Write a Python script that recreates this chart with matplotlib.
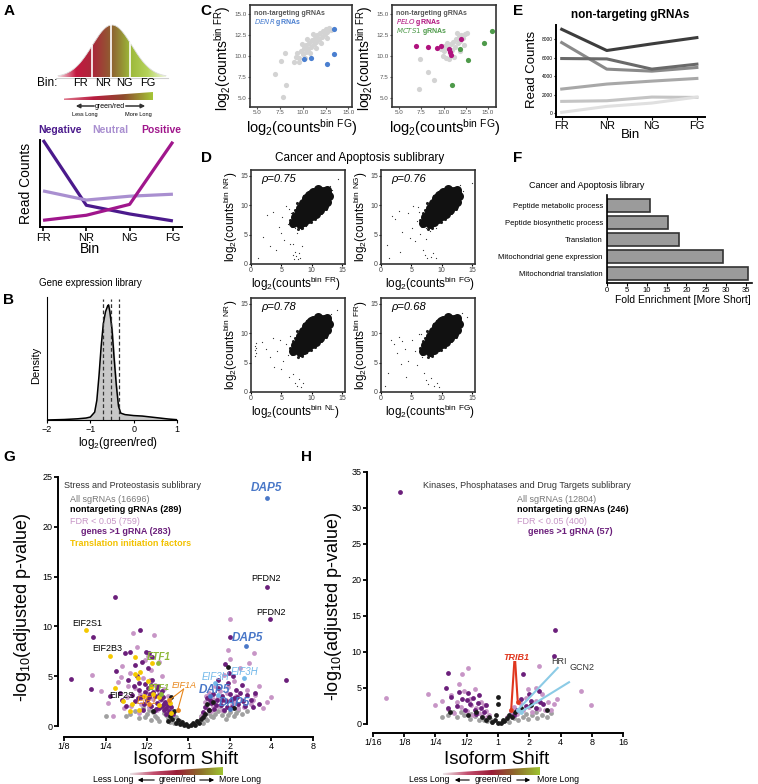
import numpy as np
import matplotlib.pyplot as plt
from matplotlib.colors import LinearSegmentedColormap
from matplotlib.patches import Polygon

plt.rcParams['font.family'] = ['Liberation Sans', 'DejaVu Sans']
plt.rcParams['mathtext.default'] = 'regular'

# ---------------- data ----------------
bins = ["FR", "NR", "NG", "FG"]
a_groups = ["Negative", "Neutral", "Positive"]
a_counts = [[1.0, 0.25, 0.15, 0.07], [0.415, 0.31, 0.354, 0.377], [0.077, 0.135, 0.26, 0.98]]
a_colors = ["#4b1a8c", "#a98fd0", "#a0168c"]

b_x = [-2.0, -1.6, -1.3, -1.1, -1.0, -0.9, -0.85, -0.8, -0.75, -0.7, -0.65, -0.6, -0.58, -0.55,
       -0.5, -0.45, -0.4, -0.35, -0.3, -0.2, -0.1, 0.0, 0.2, 0.4, 0.6, 0.8, 1.0]
b_y = [0, 0.5, 1.2, 2, 3, 8, 20, 45, 75, 98, 110, 116, 117, 110,
       92, 62, 35, 14, 7, 5.5, 5, 4.5, 4, 3, 2, 1, 0.3]
b_quart = [-0.70, -0.53, -0.34]

c1_nt = [(9.2, 9.9), (9.4, 10.4), (9.6, 9.8), (9.8, 10.6), (10.0, 10.2), (10.1, 11.0), (10.3, 10.5),
         (10.4, 11.3), (10.6, 10.8), (10.7, 11.6), (10.9, 11.1), (11.0, 11.9), (11.2, 11.4), (11.3, 12.2),
         (11.5, 11.7), (11.6, 12.5), (11.8, 12.0), (11.9, 12.8), (12.1, 12.3), (12.2, 13.0), (12.4, 12.6),
         (12.5, 13.2), (12.7, 12.9), (12.9, 13.3), (13.1, 13.1), (10.2, 9.7), (10.8, 10.3), (11.4, 10.9),
         (12.0, 11.5), (12.6, 12.1), (9.0, 9.3), (9.6, 9.3), (8.05, 10.4), (7.6, 9.4), (6.9, 7.8),
         (8.2, 6.5), (7.8, 5.1), (10.5, 12.0), (11.1, 12.6), (9.9, 11.4)]
c1_denr = [(13.4, 13.2), (13.4, 10.2), (12.6, 9.0), (10.9, 9.8), (10.1, 9.6)]
c2_nt = [(9.9, 10.0), (10.1, 10.6), (10.3, 9.8), (10.5, 10.9), (10.7, 10.3), (10.8, 11.4), (11.0, 10.7),
         (11.1, 11.7), (11.3, 11.1), (11.4, 12.0), (11.6, 11.5), (11.7, 12.3), (11.9, 11.8), (12.0, 12.5),
         (12.2, 12.1), (12.4, 12.6), (10.4, 11.6), (10.0, 11.2), (11.2, 9.9), (11.8, 10.6), (12.3, 11.3),
         (10.6, 9.6), (9.7, 10.8), (11.5, 12.7), (7.3, 9.6), (8.2, 8.1), (8.9, 7.1), (7.25, 6.0), (12.6, 12.8)]
c2_pelo = [(6.9, 11.2), (8.3, 11.1), (9.3, 11.0), (9.7, 11.2), (10.65, 10.8), (10.7, 10.5), (10.8, 10.1), (12.0, 12.0)]
c2_mcts1 = [(10.9, 6.5), (15.4, 13.0), (14.55, 11.6), (12.7, 9.5), (11.85, 10.8)]

d_core = [(7.6, 7.4), (8.0, 8.2), (8.3, 7.6), (8.5, 8.8), (8.8, 8.0), (8.9, 9.3), (9.2, 8.6), (9.3, 9.8),
          (9.6, 9.1), (9.7, 10.3), (10.0, 9.6), (10.1, 10.8), (10.4, 10.1), (10.5, 11.2), (10.8, 10.6),
          (10.9, 11.6), (11.2, 11.0), (11.3, 11.9), (11.6, 11.4), (11.7, 12.2), (12.0, 11.8), (12.2, 12.4),
          (12.4, 12.0), (8.7, 9.7), (9.2, 10.4), (9.8, 11.0), (10.3, 11.6), (9.5, 8.4), (10.2, 8.9),
          (10.8, 9.7), (11.3, 10.4), (11.8, 10.9), (12.1, 11.3), (9.0, 10.8), (7.9, 8.9), (8.4, 9.9),
          (10.9, 12.1), (11.5, 12.5), (12.5, 12.6), (9.9, 12.0), (10.5, 9.3), (8.0, 9.5), (8.5, 10.4),
          (9.0, 11.2), (9.5, 11.8), (10.2, 12.3), (11.0, 12.8), (8.7, 7.2), (9.4, 7.6), (10.0, 8.1),
          (10.7, 8.5), (11.4, 9.2), (12.0, 9.9), (12.6, 10.6), (12.8, 11.5), (7.3, 8.0), (7.0, 7.0), (8.1, 6.8)]
d_edge = [(7.0, 7.8), (7.3, 6.9), (7.5, 8.5), (8.0, 7.1), (8.2, 9.4), (8.6, 7.3), (8.0, 10.0), (9.1, 7.7),
          (8.7, 10.5), (9.6, 7.9), (9.4, 11.2), (10.2, 8.3), (10.0, 11.8), (10.8, 8.9), (10.6, 12.3),
          (11.4, 9.6), (11.2, 12.7), (11.9, 10.3), (12.0, 12.9), (12.5, 11.0), (12.8, 12.0), (12.7, 12.8),
          (6.8, 6.5), (7.2, 9.2), (9.9, 7.2), (6.5, 7.5), (7.6, 10.3), (8.4, 6.2), (9.2, 12.0), (10.5, 7.6),
          (6.9, 8.6), (7.8, 6.0), (11.6, 8.6), (12.3, 9.4), (8.8, 11.6), (13.1, 12.3)]
d_tl_sparse = [(1.2, 1.0), (2.0, 4.6), (2.6, 8.3), (3.1, 3.0), (3.6, 8.9), (4.2, 2.4), (4.6, 6.3), (5.1, 8.0),
               (5.4, 4.1), (5.8, 9.9), (6.1, 6.8), (6.4, 3.4), (6.6, 8.7), (6.9, 1.6), (7.1, 0.9), (7.3, 2.1),
               (7.5, 1.3), (7.7, 0.8), (7.9, 1.9), (8.1, 1.1), (7.2, 6.1), (7.6, 5.2), (7.9, 6.9), (8.3, 5.9),
               (8.6, 7.0), (9.0, 6.4), (9.3, 7.6), (6.8, 7.4), (7.4, 8.6), (6.2, 9.3), (8.0, 9.8), (13.0, 13.2),
               (13.4, 12.6), (12.9, 11.4), (14.3, 14.5), (9.8, 8.1), (10.4, 8.6), (7.0, 3.4), (8.4, 3.0), (5.0, 5.2)]
d_tr_sparse = [(1.0, 3.2), (1.3, 1.1), (1.8, 8.2), (2.3, 7.6), (3.0, 9.1), (3.5, 5.5), (4.4, 8.7), (5.1, 6.2),
               (5.6, 3.9), (6.0, 7.4), (6.3, 8.8), (6.5, 5.1), (6.8, 6.6), (7.0, 2.4), (7.3, 1.5), (7.6, 1.0),
               (8.2, 1.2), (8.6, 1.8), (9.0, 1.0), (7.1, 7.9), (7.5, 6.1), (7.8, 7.0), (8.1, 5.6), (8.4, 6.6),
               (8.8, 7.3), (9.1, 6.1), (6.1, 9.7), (7.2, 9.3), (5.2, 9.8), (13.1, 13.4), (13.5, 12.4),
               (12.6, 11.2), (15.0, 13.8), (9.6, 8.0), (10.2, 8.8), (7.4, 4.3), (3.2, 2.0), (4.8, 4.4)]
d_bl_sparse = [(0.6, 7.2), (0.7, 7.9), (0.8, 6.6), (0.9, 8.3), (0.7, 6.1), (0.8, 7.5), (1.8, 8.5), (2.4, 7.3),
               (3.1, 6.0), (3.6, 9.2), (4.3, 7.0), (4.8, 8.8), (5.3, 5.2), (5.7, 8.1), (6.1, 6.3), (6.4, 9.5),
               (6.7, 7.4), (7.0, 3.0), (7.3, 1.6), (7.6, 1.0), (7.9, 2.2), (8.2, 0.8), (8.5, 1.5), (7.2, 6.7),
               (7.7, 5.8), (8.1, 7.2), (8.4, 6.3), (8.9, 7.4), (9.2, 6.7), (9.6, 7.8), (6.9, 8.6), (13.2, 13.3),
               (12.8, 11.6), (14.1, 13.9), (10.1, 8.5), (5.0, 3.9), (6.2, 2.5), (3.8, 4.3)]
d_br_sparse = [(0.7, 1.0), (1.2, 3.3), (1.6, 8.9), (2.1, 8.1), (2.7, 6.6), (2.9, 9.4), (3.4, 8.6), (4.0, 7.4),
               (4.5, 5.3), (5.1, 8.9), (5.6, 6.9), (5.9, 4.6), (6.2, 9.8), (6.5, 7.6), (6.8, 5.9), (7.1, 3.3),
               (7.4, 2.0), (7.8, 1.4), (8.3, 2.4), (8.8, 1.0), (9.2, 1.6), (9.5, 0.8), (7.3, 7.0), (7.7, 8.4),
               (8.0, 6.2), (8.4, 7.6), (8.8, 6.6), (9.1, 8.0), (9.5, 7.0), (6.6, 9.9), (13.3, 13.5), (12.9, 11.3),
               (14.2, 12.8), (10.0, 8.2), (10.6, 8.7), (4.2, 2.6), (3.3, 4.7), (11.1, 9.0)]
d_rho = [0.75, 0.76, 0.78, 0.68]
d_xbin = ["FR", "FG", "NL", "FG"]
d_ybin = ["NR", "NG", "NR", "FR"]

e_counts = [[9080, 6780, 7500, 8180], [7640, 4760, 4540, 4940], [5910, 5870, 4760, 5300],
            [2600, 3140, 3460, 3750], [1260, 1330, 1730, 1690], [70, 720, 1080, 1730]]
e_colors = ["#3d3d3d", "#8a8a8a", "#6a6a6a", "#a8a8a8", "#c4c4c4", "#e0e0e0"]

f_terms = ["Peptide metabolic process", "Peptide biosynthetic process", "Translation",
           "Mitochondrial gene expression", "Mitochondrial translation"]
f_fold = [10.9, 15.4, 18.0, 29.2, 35.6]

# volcano G: (log2 isoform shift, -log10 adj p)
g_all = [(-1.5, 1.0), (-1.2, 0.8), (-1.0, 1.2), (-0.9, 0.6), (-0.8, 1.0), (-0.7, 0.5), (-0.6, 1.3),
         (-0.5, 0.8), (-0.45, 0.4), (-0.3, 0.9), (-0.2, 0.5), (0.2, 0.5), (0.3, 1.0), (0.45, 0.6),
         (0.5, 1.3), (0.6, 0.9), (0.7, 1.5), (0.8, 1.1), (0.9, 0.7), (1.0, 1.4), (1.1, 1.0), (1.2, 1.6),
         (-1.1, 1.8), (-0.65, 1.9), (0.75, 2.0), (1.3, 1.2), (-1.3, 1.5), (-2.0, 1.0), (-0.35, 0.3), (0.35, 0.3),
         (-1.4, 1.2), (-1.05, 0.9), (-0.85, 1.4), (-0.75, 0.8), (-0.55, 1.1), (-0.4, 0.6), (0.4, 0.8),
         (0.55, 1.0), (0.65, 1.2), (0.85, 1.5), (0.95, 1.1), (1.15, 1.3), (1.4, 1.5), (-0.95, 1.6)]
g_fdr = [(-2.32, 5.1), (-1.81, 1.0), (-1.48, 2.9), (-1.34, 9.3), (-0.84, 9.1), (1.01, 10.7), (1.57, 7.3),
         (-2.1, 3.5), (-1.95, 2.3), (-1.7, 4.4), (-1.6, 6.0), (-1.55, 1.8), (-1.4, 5.3), (-1.3, 3.8),
         (-1.25, 7.9), (-1.15, 2.2), (-1.1, 4.8), (-1.05, 6.6), (-1.0, 3.3), (-0.95, 1.9), (-0.9, 5.6),
         (-0.85, 2.7), (-0.8, 4.1), (-0.75, 1.6), (-0.7, 3.4), (-0.65, 5.0), (-0.6, 2.3), (-0.55, 1.4),
         (-0.5, 3.0), (-0.45, 2.0), (-0.4, 1.3), (-1.2, 1.3), (-0.98, 7.0), (-0.72, 6.4), (-1.45, 4.0),
         (0.35, 1.3), (0.4, 2.4), (0.45, 1.8), (0.5, 3.3), (0.55, 1.5), (0.6, 2.7), (0.65, 4.0), (0.7, 2.0),
         (0.75, 3.5), (0.8, 1.6), (0.85, 5.1), (0.9, 2.6), (0.95, 3.9), (1.0, 6.7), (1.05, 2.1), (1.1, 4.5),
         (1.15, 3.0), (1.2, 1.8), (1.25, 5.8), (1.3, 2.6), (1.4, 3.6), (1.5, 2.2), (1.6, 3.1), (1.7, 4.0),
         (1.8, 1.8), (0.95, 7.6), (1.45, 6.3), (2.0, 2.9), (0.3, 0.9), (1.9, 2.4),
         (-1.62, 4.9), (-1.38, 2.0), (-1.18, 3.2), (-0.92, 4.6), (-0.68, 2.6), (-0.58, 3.7), (-0.52, 1.8),
         (0.42, 3.0), (0.58, 2.0), (0.72, 2.9), (0.92, 3.3), (1.12, 2.4), (1.35, 1.9), (1.55, 2.6)]
g_genes = [(-2.83, 4.7), (-2.35, 3.7), (-2.31, 8.9), (-1.78, 13.0), (-1.16, 9.6), (-1.52, 7.3), (-1.02, 7.4),
           (-0.95, 7.3), (-1.3, 6.1), (1.97, 10.7), (1.9, 14.0), (1.01, 8.9), (2.35, 4.6),
           (-1.9, 3.0), (-1.75, 5.5), (-1.65, 3.3), (-1.5, 2.0), (-1.45, 4.6), (-1.35, 3.1), (-1.3, 2.5),
           (-1.25, 5.0), (-1.2, 3.6), (-1.15, 2.9), (-1.1, 1.6), (-1.05, 4.2), (-1.0, 2.6), (-0.97, 5.8),
           (-0.93, 3.2), (-0.9, 2.0), (-0.87, 4.6), (-0.83, 1.5), (-0.8, 3.0), (-0.77, 2.3), (-0.73, 4.0),
           (-0.7, 1.8), (-0.67, 2.7), (-0.63, 3.5), (-0.6, 1.6), (-0.57, 2.4), (-0.53, 1.2), (-0.5, 2.1),
           (-0.47, 1.5), (-0.43, 1.9), (-0.38, 1.2), (-1.12, 6.4), (-0.88, 6.9), (-1.4, 7.4), (-1.6, 2.6),
           (-1.05, 3.4), (-0.75, 3.7), (-0.9, 4.1), (-1.2, 4.3), (-0.65, 2.0),
           (-1.08, 2.2), (-0.98, 3.8), (-0.85, 3.4), (-0.78, 1.7), (-0.62, 2.9), (-0.55, 1.8), (-1.22, 2.8),
           (-1.32, 4.0), (-0.95, 2.9), (-0.72, 3.1), (-0.6, 2.2),
           (0.35, 1.4), (0.4, 1.9), (0.45, 2.8), (0.5, 1.6), (0.55, 2.3), (0.6, 3.2), (0.62, 1.7), (0.68, 2.6),
           (0.72, 3.8), (0.78, 2.1), (0.82, 3.0), (0.86, 1.6), (0.9, 2.5), (0.95, 4.3), (1.0, 3.2), (1.05, 1.9),
           (1.1, 2.8), (1.15, 3.6), (1.2, 2.2), (1.25, 3.3), (1.32, 2.5), (1.4, 3.1), (1.5, 2.6), (1.6, 3.3),
           (1.7, 2.2), (0.88, 6.2), (0.98, 5.3), (1.08, 5.0), (1.55, 1.9), (0.7, 4.6), (1.28, 4.1),
           (0.52, 2.6), (0.66, 2.1), (0.8, 2.6), (0.93, 1.9), (1.02, 2.6), (1.18, 2.9), (1.36, 2.0)]
g_nt = [(-0.3, 0.3), (-0.25, 0.6), (-0.2, 0.2), (-0.15, 0.4), (-0.1, 0.1), (-0.05, 0.2), (0.0, 0.05),
        (0.05, 0.15), (0.1, 0.3), (0.15, 0.1), (0.2, 0.5), (0.25, 0.3), (0.3, 0.7), (0.35, 0.9), (0.4, 1.2),
        (0.5, 1.6), (-0.4, 0.7), (-0.45, 1.0), (-0.5, 0.5), (0.6, 2.4), (0.95, 5.9), (-0.43, 2.9),
        (-0.85, 1.5), (1.1, 1.8), (-0.35, 1.5), (0.45, 2.2)]
g_tif = [(-2.48, 9.6), (-1.9, 7.0), (-1.28, 6.9), (-0.88, 6.3), (-1.77, 3.8), (-1.57, 2.5), (-1.41, 1.5),
         (-1.2, 1.6), (-1.18, 5.4), (-1.22, 4.8), (-0.97, 4.5), (-0.86, 3.2), (-0.7, 2.1), (-0.44, 2.3),
         (-0.42, 1.3), (-1.08, 3.0), (-0.9, 3.9), (-0.72, 2.9), (-1.35, 2.2), (-1.3, 5.2)]
g_etf1 = [(-0.74, 6.3), (-0.66, 3.2)]
g_eif1 = [(-0.26, 1.6), (-0.46, 2.6), (-0.95, 2.2)]
g_dap5 = [(1.9, 22.9), (1.39, 8.0), (0.52, 3.0), (1.01, 1.7)]
g_eif3h = [(1.33, 4.8), (0.63, 4.3), (0.7, 3.1)]

h_all = [(-1.6, 1.2), (-1.3, 0.9), (-1.1, 1.3), (-0.9, 0.7), (-0.75, 1.1), (-0.6, 0.6), (-0.5, 0.9),
         (-0.35, 0.4), (-0.25, 0.7), (0.25, 0.6), (0.35, 0.3), (0.5, 0.8), (0.65, 0.5), (0.8, 1.0),
         (0.95, 0.7), (1.1, 1.2), (1.25, 0.8), (1.4, 1.3), (1.55, 1.0), (-1.8, 0.9), (-1.45, 1.6),
         (1.7, 1.5), (-0.2, 0.3), (0.15, 0.4), (-1.2, 1.6), (-0.85, 1.4), (-0.45, 0.6), (0.45, 1.1),
         (0.9, 1.4), (1.2, 1.6)]
h_fdr = [(-3.58, 3.6), (-2.24, 4.2), (-1.14, 6.9), (-0.97, 7.8), (1.31, 8.0), (2.65, 4.6), (2.98, 2.7),
         (1.8, 2.8), (1.9, 3.5), (-1.8, 3.2), (-1.6, 2.1), (-1.5, 4.0), (-1.4, 1.5), (-1.3, 3.0), (-1.2, 2.4),
         (-1.1, 4.6), (-1.0, 1.8), (-0.9, 3.4), (-0.85, 2.6), (-0.8, 1.3), (-0.7, 2.2), (-0.6, 1.5),
         (-0.55, 3.0), (-0.5, 1.1), (-0.4, 1.8), (-0.35, 0.9), (-0.3, 1.3), (0.3, 1.0), (0.4, 1.6),
         (0.5, 2.3), (0.6, 1.4), (0.7, 2.9), (0.8, 1.9), (0.9, 3.6), (1.0, 2.4), (1.1, 1.6), (1.2, 3.2),
         (1.3, 2.1), (1.4, 4.2), (1.5, 1.9), (1.6, 3.0), (1.2, 5.0), (-0.75, 4.9), (-1.25, 5.6), (0.95, 4.8),
         (-0.45, 2.6), (-2.0, 2.6), (1.7, 2.0)]
h_genes = [(-3.13, 32.2), (1.82, 13.1), (1.8, 9.4), (-1.59, 7.1), (0.8, 6.9), (-1.65, 5.0), (-1.5, 3.8),
           (-1.3, 2.5), (-1.15, 3.5), (-1.05, 2.0), (-0.95, 4.3), (-0.9, 2.8), (-0.8, 3.6), (-0.75, 1.9),
           (-0.65, 2.9), (-0.6, 4.0), (-0.55, 2.2), (-0.45, 1.6), (-0.4, 2.6), (-1.25, 4.4), (-1.6, 2.2),
           (-1.0, 3.3), (-0.7, 1.4), (0.6, 2.0), (0.75, 3.4), (0.9, 2.5), (1.0, 4.1), (1.05, 3.2), (1.2, 2.2),
           (1.3, 4.6), (1.35, 3.0), (0.5, 1.3), (1.45, 2.8)]
h_nt = [(-1.55, 1.7), (-0.95, 1.3), (-0.7, 1.6), (-0.5, 1.0), (-0.4, 0.6), (-0.3, 0.9), (-0.2, 0.3),
        (-0.1, 0.5), (0.0, 0.1), (0.1, 0.2), (0.15, 0.6), (0.2, 0.4), (0.3, 0.8), (0.35, 1.3), (0.45, 0.9),
        (0.55, 1.6), (0.0, 3.8), (0.0, 2.8), (1.57, 1.9), (0.75, 2.2), (-0.05, 1.2), (1.05, 2.6)]
h_trib1 = [(0.42, 1.95), (0.63, 3.1)]
h_isr = [(0.63, 1.95), (0.74, 1.7)]

pink, purple = "#c795c6", "#6b1f7b"

W, H = 758, 784
fig = plt.figure(figsize=(W / 100, H / 100), dpi=100)


def box(x0, y0, x1, y1):
    return fig.add_axes([x0 / W, 1 - y1 / H, (x1 - x0) / W, (y1 - y0) / H])


def pts(lst):
    a = np.array(lst, dtype=float)
    return a[:, 0], a[:, 1]


# ---------------- A ----------------
axA = box(40, 140, 182, 227)
for vals, col in zip(a_counts, a_colors):
    axA.plot(range(4), vals, color=col, lw=2.3, clip_on=False, solid_capstyle='butt')
axA.set_xlim(-0.07, 3.21)
axA.set_ylim(0, 1.0)
axA.set_yticks([])
axA.set_xticks(range(4), bins, fontsize=8)
axA.tick_params(length=3, width=1.2, pad=1)
for s in ["top", "right"]:
    axA.spines[s].set_visible(False)
for s in ["left", "bottom"]:
    axA.spines[s].set_linewidth(1.4)

# ---------------- B ----------------
axB = box(47, 297, 177, 420)
axB.fill_between(b_x, b_y, color="#c8c8c8")
axB.plot(b_x, b_y, color="k", lw=1.1)
for v in b_quart:
    axB.plot([v, v], [0, 123], ls=(0, (3, 2)), color="#333333", lw=0.9)
axB.set_xlim(-2, 1)
axB.set_ylim(0, 125)
axB.set_yticks([])
axB.set_xticks([-2, -1, 0, 1], ["−2", "−1", "0", "1"], fontsize=6.5)
axB.tick_params(length=2.5, pad=1)
for s in ["top", "right"]:
    axB.spines[s].set_visible(False)

# ---------------- C ----------------
axC1 = box(250, 5, 352, 107)
x, y = pts(c1_nt)
axC1.scatter(x, y, s=14, color="#d3d3d3", lw=0)
x, y = pts(c1_denr)
axC1.scatter(x, y, s=14, color="#4a7fd0", lw=0)
axC1.set_xlim(4.2, 15.4)
axC1.set_ylim(3.87, 16.1)

axC2 = box(392, 5, 496, 107)
x, y = pts(c2_nt)
axC2.scatter(x, y, s=14, color="#d3d3d3", lw=0)
x, y = pts(c2_pelo)
axC2.scatter(x, y, s=14, color="#b0127e", lw=0)
x, y = pts(c2_mcts1)
axC2.scatter(x, y, s=14, color="#4e9a4a", lw=0)
axC2.set_xlim(4.2, 15.9)
axC2.set_ylim(3.87, 16.1)
for ax in (axC1, axC2):
    t = [5.0, 7.5, 10.0, 12.5, 15.0]
    ax.set_xticks(t, [f"{v:.1f}" for v in t])
    ax.set_yticks(t, [f"{v:.1f}" for v in t])
    ax.tick_params(labelsize=4.5, length=1.5, pad=1, labelcolor="#555555", color="#555555")
    for s in ax.spines.values():
        s.set_linewidth(1.2)
        s.set_color("#333333")

# ---------------- D ----------------
d_boxes = [(251, 170, 345, 264), (381, 170, 475, 264), (251, 298, 345, 392), (381, 298, 475, 392)]
d_sparse = [d_tl_sparse, d_tr_sparse, d_bl_sparse, d_br_sparse]
for i, b in enumerate(d_boxes):
    ax = box(*b)
    x, y = pts(d_sparse[i])
    ax.scatter(x, y, s=0.8, color="#333333", lw=0)
    x, y = pts(d_edge)
    ax.scatter(x, y, s=5, color="#222222", lw=0)
    x, y = pts(d_core)
    ax.scatter(x, y, s=42, color="#111111", lw=0)
    ax.set_xlim(0, 15.5)
    ax.set_ylim(0, 16)
    ax.set_xticks([0, 5, 10, 15])
    ax.set_yticks([0, 5, 10, 15])
    ax.tick_params(labelsize=5, length=1.5, pad=0.8, labelcolor="#444444")
    for s in ax.spines.values():
        s.set_linewidth(1.2)
        s.set_color("#333333")
    ax.text(0.11, 0.87, f"ρ={d_rho[i]:.2f}", transform=ax.transAxes, fontsize=8, style="italic")

# ---------------- E ----------------
axE = box(556, 25, 705, 117)
for vals, col in zip(e_counts, e_colors):
    axE.plot(range(4), vals, color=col, lw=2.2)
axE.set_xlim(-0.127, 3.18)
axE.set_ylim(-432, 9546)
axE.set_xticks(range(4), bins, fontsize=8)
axE.set_yticks([0, 2000, 4000, 6000, 8000])
axE.tick_params(axis="y", labelsize=3.5, length=1.5, pad=1)
axE.tick_params(axis="x", length=2, pad=1)
for s in ["top", "right"]:
    axE.spines[s].set_visible(False)
for s in ["left", "bottom"]:
    axE.spines[s].set_linewidth(1.4)

# ---------------- F ----------------
axF = box(607, 195, 752, 283)
ypos = np.arange(len(f_terms))[::-1]
axF.barh(ypos, f_fold, height=0.78, color="#9b9b9b", edgecolor="#333333", lw=1.2)
axF.set_yticks(ypos, f_terms, fontsize=5.5)
axF.set_xlim(0, 36.5)
axF.set_ylim(-0.55, 4.6)
axF.set_xticks(range(0, 40, 5))
axF.tick_params(axis="x", labelsize=5.5, length=2, pad=1)
axF.tick_params(axis="y", length=0, pad=3)
for s in ["top", "right"]:
    axF.spines[s].set_visible(False)
for s in ["left", "bottom"]:
    axF.spines[s].set_linewidth(1.2)

# ---------------- G ----------------
axG = box(58, 470, 315, 731)
for data, col in [(g_all, "#a0a0a0"), (g_fdr, pink), (g_genes, purple), (g_nt, "#1a1a1a"),
                  (g_tif, "#f4c800"), (g_etf1, "#8db83a"), (g_eif1, "#e8861a"),
                  (g_dap5, "#4a78c8"), (g_eif3h, "#73b9ea")]:
    x, y = pts(data)
    axG.scatter(x, y, s=12, color=col, lw=0)
axG.plot([-0.12, -0.46], [3.7, 2.6], color="#e8861a", lw=0.8)
axG.plot([-0.12, -0.26], [3.7, 1.6], color="#e8861a", lw=0.8)
g_labels = [("DAP5", 1.88, 23.9, "#4a78c8", 8.5, "bold", "italic"),
            ("PFDN2", 1.88, 14.8, "k", 6.5, "normal", "normal"),
            ("PFDN2", 1.98, 11.4, "k", 6.5, "normal", "normal"),
            ("EIF2S1", -2.43, 10.3, "k", 6.5, "normal", "normal"),
            ("EIF2B3", -1.95, 7.8, "k", 6.5, "normal", "normal"),
            ("ETF1", -0.72, 6.95, "#8db83a", 7, "bold", "italic"),
            ("DAP5", 1.42, 8.8, "#4a78c8", 8.5, "bold", "italic"),
            ("EIF3H", 1.36, 5.4, "#73b9ea", 7, "normal", "italic"),
            ("EIF3H", 0.65, 4.9, "#73b9ea", 7, "normal", "italic"),
            ("DAP5", 0.63, 3.6, "#4a78c8", 8.5, "bold", "italic"),
            ("DAP5", 1.12, 2.3, "#4a78c8", 8.5, "bold", "italic"),
            ("ETF1", -0.72, 3.9, "#8db83a", 6.5, "bold", "italic"),
            ("EIF1A", -0.1, 4.1, "#e8861a", 6.5, "normal", "italic"),
            ("EIF1", -1.0, 2.5, "#e8861a", 7, "normal", "italic"),
            ("EIF2S", -1.62, 3.1, "k", 6.5, "normal", "normal")]
for s, x0, y0, c, fs, fw, st in g_labels:
    axG.text(x0, y0, s, color=c, fontsize=fs, fontweight=fw, style=st, ha="center", va="center")
axG.set_xlim(-3.145, 3.05)
axG.set_ylim(-0.5, 25.7)
axG.set_xticks(range(-3, 4), ["1/8", "1/4", "1/2", "1", "2", "4", "8"])
axG.set_yticks(range(0, 30, 5))
axG.spines["left"].set_bounds(0, 25)
axG.spines["bottom"].set_bounds(-3, 3)
axG.spines["bottom"].set_position(("outward", 4))

# ---------------- H ----------------
axH = box(367, 465, 625, 727)
for data, col in [(h_all, "#a0a0a0"), (h_fdr, pink), (h_genes, purple), (h_nt, "#1a1a1a")]:
    x, y = pts(data)
    axH.scatter(x, y, s=12, color=col, lw=0)
axH.plot([0.52, 0.42], [8.6, 1.95], color="#e0361e", lw=1.5)
axH.plot([0.55, 0.63], [8.6, 3.1], color="#e0361e", lw=1.5)
axH.plot([1.91, 0.63], [7.8, 1.95], color="#8ccbe6", lw=1.5)
axH.plot([2.27, 0.74], [5.8, 1.7], color="#8ccbe6", lw=1.5)
x, y = pts(h_trib1)
axH.scatter(x, y, s=12, color="#e0361e", lw=0, zorder=3)
x, y = pts(h_isr)
axH.scatter(x, y, s=12, color="#8ccbe6", lw=0, zorder=3)
axH.text(0.58, 9.3, "TRIB1", color="#e0361e", fontsize=6.5, fontweight="bold", style="italic", ha="center", va="center")
axH.text(1.96, 8.7, "HRI", fontsize=6.5, color="#333333", ha="center", va="center")
axH.text(2.7, 7.9, "GCN2", fontsize=6.5, color="#333333", ha="center", va="center")
axH.set_xlim(-4.19, 4.06)
axH.set_ylim(-0.42, 35.97)
axH.set_xticks(range(-4, 5), ["1/16", "1/8", "1/4", "1/2", "1", "2", "4", "8", "16"])
axH.set_yticks(range(0, 40, 5))
axH.spines["left"].set_bounds(0, 35)
axH.spines["bottom"].set_bounds(-4, 4)
axH.spines["bottom"].set_position(("outward", 4))

for ax in (axG, axH):
    for s in ["top", "right"]:
        ax.spines[s].set_visible(False)
    for s in ["left", "bottom"]:
        ax.spines[s].set_linewidth(1.4)
    ax.tick_params(labelsize=6.5, length=3, width=1.3, pad=1)

# ---------------- overlay: schematics and labels ----------------
ov = fig.add_axes([0, 0, 1, 1])
ov.axis("off")


def tx(x, y, s, **kw):
    kw.setdefault("ha", "center")
    kw.setdefault("va", "center")
    ov.text(x, y, s, **kw)


def wedge(x0, x1, ytop_left, ytop_right, ybot, colors):
    cm = LinearSegmentedColormap.from_list("g", colors)
    im = ov.imshow(np.linspace(0, 1, 256)[None, :], extent=(x0, x1, ybot, min(ytop_left, ytop_right)),
                   aspect="auto", cmap=cm)
    poly = Polygon([(x0, ytop_left), (x1, ytop_right), (x1, ybot), (x0, ybot)], closed=True,
                   transform=ov.transData, fc="none", ec="none")
    ov.add_patch(poly)
    im.set_clip_path(poly)


# bell curve schematic in A
bx = np.linspace(58, 166, 300)
by = 77 - 52 * np.exp(-((bx - 112) / 28) ** 2)
bell_cm = LinearSegmentedColormap.from_list(
    "bell", ["#f6e3e7", "#c41840", "#a82a3a", "#8e6230", "#9cb83a", "#b5d35a", "#f1f7df"])
im = ov.imshow(np.linspace(0, 1, 256)[None, :], extent=(58, 166, 78, 24), aspect="auto", cmap=bell_cm)
poly = Polygon(list(zip(bx, by)) + [(166, 77), (58, 77)], closed=True, transform=ov.transData,
               fc="none", ec="none")
ov.add_patch(poly)
im.set_clip_path(poly)
ov.plot(bx, by, color="#dddddd", lw=0.6)
ov.plot([56, 168], [77.5, 77.5], color="#cfcfcf", lw=0.8)
for xv in (92, 111, 130):
    ov.plot([xv, xv], [77, 77 - 52 * np.exp(-((xv - 112) / 28) ** 2)], color="white", lw=1.2)

tx(37, 83, "Bin:", fontsize=8.5, ha="left")
for lab, xv in zip(bins, (80, 103, 124, 148)):
    tx(xv, 83, lab, fontsize=8)
wedge(64, 153, 98.5, 92, 100, ["#e07a8e", "#b81c40", "#8e4a2c", "#a5c637"])
tx(110, 106, "green/red", fontsize=5)
for a, b in ((97, 73), (123, 148)):
    ov.annotate("", xy=(b, 106), xytext=(a, 106),
                arrowprops=dict(arrowstyle="-|>", color="#333333", lw=1.1, mutation_scale=6))
tx(85, 114.5, "Less Long", fontsize=4)
tx(138, 114.5, "More Long", fontsize=4)
for lab, col, xv in zip(a_groups, a_colors, (60, 110, 161)):
    tx(xv, 130, lab, color=col, fontsize=7.5, fontweight="bold")
tx(26, 183, "Read Counts", fontsize=10, rotation=90)
tx(90, 249, "Bin", fontsize=10)

# B labels
tx(90, 283, "Gene expression library", fontsize=7)
tx(36, 365, "Density", fontsize=8, rotation=90)
tx(118, 443, r"log$_2$(green/red)", fontsize=8.5)

# C labels
tx(254, 13, "non-targeting gRNAs", fontsize=5, fontweight="bold", color="#555555", ha="left")
tx(254, 22, r"$\it{DENR}$ gRNAs", fontsize=5, fontweight="bold", color="#4a7fd0", ha="left")
tx(396, 13, "non-targeting gRNAs", fontsize=5, fontweight="bold", color="#555555", ha="left")
tx(396, 22, r"$\it{PELO}$ gRNAs", fontsize=5, fontweight="bold", color="#b0127e", ha="left")
tx(396, 31.5, r"$\it{MCTS1}$ gRNAs", fontsize=5, fontweight="bold", color="#4e9a4a", ha="left")
tx(302, 128, r"log$_2$(counts$^{bin\ FG}$)", fontsize=10.5)
tx(223, 58, r"log$_2$(counts$^{bin\ FR}$)", fontsize=10, rotation=90)
tx(445, 128, r"log$_2$(counts$^{bin\ FG}$)", fontsize=10.5)
tx(365, 58, r"log$_2$(counts$^{bin\ FR}$)", fontsize=10, rotation=90)

# D labels
tx(360, 158, "Cancer and Apoptosis sublibrary", fontsize=8.5)
d_xc = [(296, 283.5), (430, 283.5), (296, 411.5), (430, 411.5)]
d_yc = [(231, 217), (361, 217), (231, 345), (361, 345)]
for i in range(4):
    tx(*d_xc[i], r"log$_2$(counts$^{bin\ %s}$)" % d_xbin[i], fontsize=8.5)
    tx(*d_yc[i], r"log$_2$(counts$^{bin\ %s}$)" % d_ybin[i], fontsize=8.5, rotation=90)

# E labels
tx(630, 15, "non-targeting gRNAs", fontsize=8.5, fontweight="bold")
tx(532, 69, "Read Counts", fontsize=9.5, rotation=90)
tx(630, 135, "Bin", fontsize=9.5)

# F labels
tx(587, 185, "Cancer and Apoptosis library", fontsize=6.5)
tx(683, 300, "Fold Enrichment [More Short]", fontsize=7.5)

# G labels
tx(64, 485, "Stress and Proteostasis sublibrary", fontsize=6.5, color="#333333", ha="left")
tx(70, 499, "All sgRNAs (16696)", fontsize=6.5, color="#777777", ha="left")
tx(70, 510, "nontargeting gRNAs (289)", fontsize=6.5, fontweight="bold", ha="left")
tx(70, 521, "FDR < 0.05 (759)", fontsize=6.5, color=pink, ha="left")
tx(81, 532, "genes >1 gRNA (283)", fontsize=6.5, fontweight="bold", color=purple, ha="left")
tx(70, 543, "Translation initiation factors", fontsize=6.5, fontweight="bold", color="#f2c200", ha="left")
tx(23, 607, r"-log$_{10}$(adjusted p-value)", fontsize=13, rotation=90)
tx(186, 759, "Isoform Shift", fontsize=13.5)

# H labels
tx(423, 485, "Kinases, Phosphatases and Drug Targets sublibrary", fontsize=6.5, color="#333333", ha="left")
tx(517, 499, "All sgRNAs (12804)", fontsize=6.5, color="#777777", ha="left")
tx(517, 510, "nontargeting gRNAs (246)", fontsize=6.5, fontweight="bold", ha="left")
tx(517, 521, "FDR < 0.05 (400)", fontsize=6.5, color=pink, ha="left")
tx(528, 532, "genes >1 gRNA (57)", fontsize=6.5, fontweight="bold", color=purple, ha="left")
tx(333, 606, r"-log$_{10}$(adjusted p-value)", fontsize=13, rotation=90)
tx(497, 759, "Isoform Shift", fontsize=13.5)

# gradient keys under G and H
grad_cols = ["#ebe6e8", "#c45070", "#9a1c36", "#8d6b2a", "#9ec331"]
for (x0, x1, tl, xa, xb, xc, xd, xm, tr) in [(130, 223, 133, 135, 157, 197, 217, 177, 219),
                                              (443, 540, 449, 452, 472, 514, 533, 493, 537)]:
    wedge(x0, x1, 773, 767, 775, grad_cols)
    tx(tl, 780, "Less Long", fontsize=6.3, ha="right")
    tx(xm, 780, "green/red", fontsize=6.3)
    tx(tr, 780, "More Long", fontsize=6.3, ha="left")
    ov.annotate("", xy=(xa, 780), xytext=(xb, 780),
                arrowprops=dict(arrowstyle="-|>", color="k", lw=0.8, mutation_scale=6))
    ov.annotate("", xy=(xd, 780), xytext=(xc, 780),
                arrowprops=dict(arrowstyle="-|>", color="k", lw=0.8, mutation_scale=6))

# panel letters
for lab, xv, yv in [("A", 9, 11), ("B", 9, 300), ("C", 206, 11), ("D", 206, 158), ("E", 518, 11),
                    ("F", 518, 158), ("G", 9, 457), ("H", 307, 457)]:
    tx(xv, yv, lab, fontsize=11, fontweight="bold")

ov.set_xlim(0, W)
ov.set_ylim(H, 0)

fig.savefig("out.png", dpi=100)
